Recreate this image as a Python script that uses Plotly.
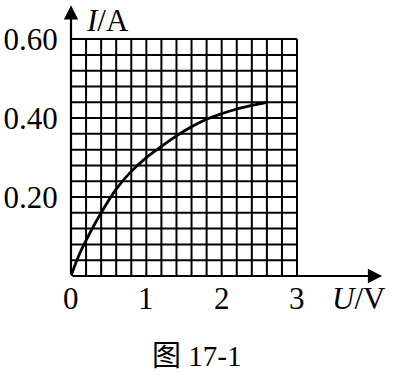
import numpy as np
import plotly.graph_objects as go

# Data
U_values = [0, 0.1, 0.2, 0.4, 0.6, 0.8, 1.0, 1.2, 1.4, 1.6, 1.8, 2.0, 2.2, 2.4, 2.6]
I_values = [0, 0.05, 0.09, 0.16, 0.22, 0.265, 0.30, 0.328, 0.355, 0.378, 0.397, 0.411, 0.423, 0.432, 0.44]

x_tick_vals = [0, 1, 2, 3]
x_tick_text = ["0", "1", "2", "3"]
y_tick_vals = [0.2, 0.4, 0.6]
y_tick_text = ["0.20", "0.40", "0.60"]

U_max, I_max = 3.0, 0.6
U_step, I_step = 0.2, 0.04
U_arrow_tip, I_arrow_tip = 4.13, 0.686

x_label = "<i>U</i>/V"
y_label = "<i>I</i>/A"
caption = "图 17-1"

FONT = "Liberation Serif, Times New Roman, Noto Sans CJK SC, serif"
FS = 31

# grid lines
n_u = int(round(U_max / U_step))
n_i = int(round(I_max / I_step))
gx, gy = [], []
for k in range(n_u + 1):
    u = k * U_step
    gx += [u, u, None]
    gy += [0, I_max, None]
for k in range(n_i + 1):
    i = k * I_step
    gx += [0, U_max, None]
    gy += [i, i, None]

fig = go.Figure()
fig.add_trace(go.Scatter(x=gx, y=gy, mode="lines",
                         line=dict(color="#000", width=2),
                         hoverinfo="skip", showlegend=False))
fig.add_trace(go.Scatter(x=U_values, y=I_values, mode="lines",
                         line=dict(color="#000", width=2.8, shape="spline", smoothing=1.0),
                         showlegend=False))

# axis arrows
fig.add_annotation(x=U_arrow_tip, y=0, ax=0, ay=0, xref="x", yref="y", axref="x", ayref="y",
                   showarrow=True, arrowhead=2, arrowsize=1.3, arrowwidth=2.2, arrowcolor="#000", text="")
fig.add_annotation(x=0, y=I_arrow_tip, ax=0, ay=0, xref="x", yref="y", axref="x", ayref="y",
                   showarrow=True, arrowhead=2, arrowsize=1.3, arrowwidth=2.2, arrowcolor="#000", text="")

# x tick labels (placed by data x through the axis scale)
for v, t in zip(x_tick_vals, x_tick_text):
    fig.add_annotation(x=v, y=-0.083, xref="x", yref="paper", text=t, showarrow=False,
                       xanchor="center", yanchor="middle", font=dict(family=FONT, size=FS, color="#000"))

fig.add_annotation(x=0.17, y=0.648, xref="x", yref="y", text=y_label, showarrow=False,
                   xanchor="left", yanchor="middle", font=dict(family=FONT, size=FS, color="#000"))
fig.add_annotation(x=3.44, y=-0.08, xref="x", yref="paper", text=x_label, showarrow=False,
                   xanchor="left", yanchor="middle", font=dict(family=FONT, size=FS, color="#000"))
fig.add_annotation(x=1.67, y=-0.29, xref="x", yref="paper", text=caption, showarrow=False,
                   xanchor="center", yanchor="middle", font=dict(family=FONT, size=29, color="#000"))

fig.update_xaxes(range=[0, 4.274], showticklabels=False,
                 showgrid=False, zeroline=False, showline=False, ticks="")
fig.update_yaxes(range=[0, 0.699], tickvals=y_tick_vals, ticktext=y_tick_text,
                 showgrid=False, zeroline=False, showline=False,
                 ticks="outside", ticklen=0, ticklabelstandoff=6,
                 tickfont=dict(family=FONT, size=FS, color="#000"))

fig.update_layout(width=393, height=375, margin=dict(l=71, r=0, t=0, b=99),
                  plot_bgcolor="white", paper_bgcolor="white")

fig.write_html("out.html", config={"displayModeBar": False})
